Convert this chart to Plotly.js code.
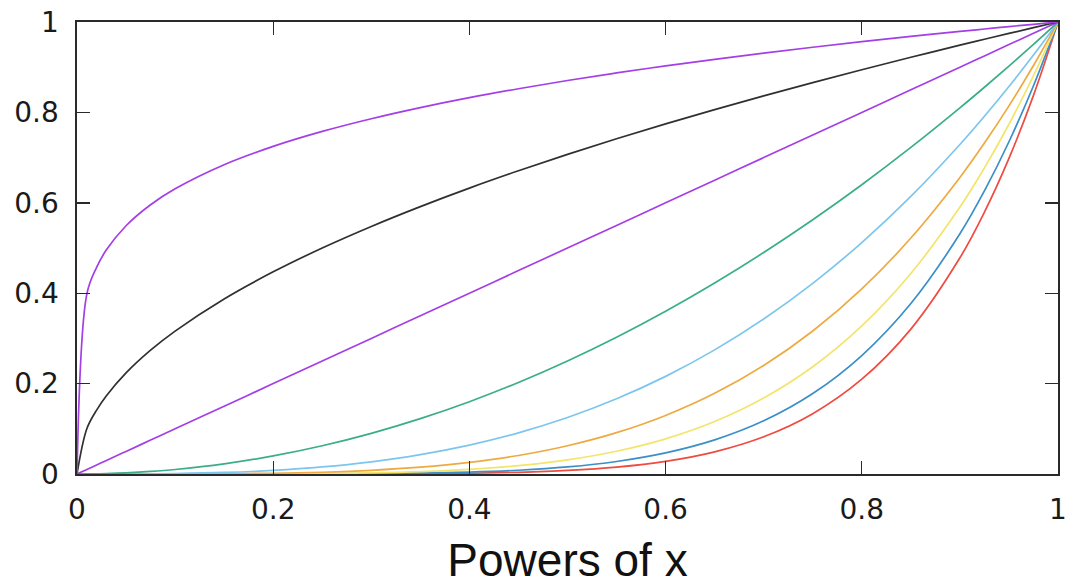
<!DOCTYPE html>
<html>
<head>
<meta charset="utf-8">
<script src="https://cdn.plot.ly/plotly-3.0.1.min.js"></script>
<style>html,body{margin:0;padding:0;background:#fff;}#chart{width:1072px;height:586px;}</style>
</head>
<body>
<div id="chart"></div>
<script>
// sample positions along x
const xs = [0, 0.0101, 0.02, 0.03, 0.05, 0.075, 0.1, 0.15, 0.2, 0.25, 0.3, 0.35, 0.4, 0.45, 0.5, 0.55, 0.6, 0.65, 0.7, 0.75, 0.8, 0.85, 0.9, 0.925, 0.95, 0.975, 1];

// curve values read at those positions
const yPow02 = [0, 0.3989, 0.4573, 0.4959, 0.5493, 0.5957, 0.6310, 0.6843, 0.7248, 0.7579, 0.7860, 0.8106, 0.8326, 0.8524, 0.8706, 0.8873, 0.9029, 0.9175, 0.9311, 0.9441, 0.9564, 0.9680, 0.9791, 0.9845, 0.9898, 0.9949, 1];
const yPow05 = [0, 0.1005, 0.1414, 0.1732, 0.2236, 0.2739, 0.3162, 0.3873, 0.4472, 0.5, 0.5477, 0.5916, 0.6325, 0.6708, 0.7071, 0.7416, 0.7746, 0.8062, 0.8367, 0.8660, 0.8944, 0.9220, 0.9487, 0.9618, 0.9747, 0.9874, 1];
const yPow1 = [0, 0.0101, 0.02, 0.03, 0.05, 0.075, 0.1, 0.15, 0.2, 0.25, 0.3, 0.35, 0.4, 0.45, 0.5, 0.55, 0.6, 0.65, 0.7, 0.75, 0.8, 0.85, 0.9, 0.925, 0.95, 0.975, 1];
const yPow2 = [0, 0.0001, 0.0004, 0.0009, 0.0025, 0.0056, 0.01, 0.0225, 0.04, 0.0625, 0.09, 0.1225, 0.16, 0.2025, 0.25, 0.3025, 0.36, 0.4225, 0.49, 0.5625, 0.64, 0.7225, 0.81, 0.8556, 0.9025, 0.9506, 1];
const yPow3 = [0, 0, 0.000008, 0.000027, 0.000125, 0.00042, 0.001, 0.003375, 0.008, 0.015625, 0.027, 0.042875, 0.064, 0.091125, 0.125, 0.166375, 0.216, 0.274625, 0.343, 0.421875, 0.512, 0.614125, 0.729, 0.791453, 0.857375, 0.926859, 1];
const yPow4 = [0, 0, 0, 0, 0.00000625, 0.0000316, 0.0001, 0.000506, 0.0016, 0.003906, 0.0081, 0.015006, 0.0256, 0.041006, 0.0625, 0.091506, 0.1296, 0.178506, 0.2401, 0.316406, 0.4096, 0.522006, 0.6561, 0.732094, 0.814506, 0.903688, 1];
const yPow5 = [0, 0, 0, 0, 0, 0.0000024, 0.00001, 0.0000759, 0.00032, 0.000977, 0.00243, 0.005252, 0.01024, 0.018453, 0.03125, 0.050328, 0.07776, 0.116029, 0.16807, 0.237305, 0.32768, 0.443705, 0.59049, 0.677187, 0.773781, 0.881096, 1];
const yPow6 = [0, 0, 0, 0, 0, 0, 0.000001, 0.0000114, 0.000064, 0.000244, 0.000729, 0.001838, 0.004096, 0.008304, 0.015625, 0.02768, 0.046656, 0.075419, 0.117649, 0.177979, 0.262144, 0.37715, 0.531441, 0.626398, 0.735092, 0.859069, 1];
const yPow7 = [0, 0, 0, 0, 0, 0, 0, 0.0000017, 0.0000128, 0.000061, 0.000219, 0.000643, 0.001638, 0.003737, 0.007813, 0.015224, 0.027994, 0.049022, 0.082354, 0.133484, 0.209715, 0.320577, 0.478297, 0.579418, 0.698337, 0.837592, 1];

const xTicks = [0, 0.2, 0.4, 0.6, 0.8, 1];
const yTicks = [0, 0.2, 0.4, 0.6, 0.8, 1];
const xTickText = ["0", "0.2", "0.4", "0.6", "0.8", "1"];
const yTickText = ["0", "0.2", "0.4", "0.6", "0.8", "1"];

const series = [
  {y: yPow7, color: "#ef4b40"},
  {y: yPow6, color: "#3a8fc8"},
  {y: yPow5, color: "#f3e46c"},
  {y: yPow4, color: "#eeaa40"},
  {y: yPow3, color: "#7cc6ee"},
  {y: yPow2, color: "#3aae88"},
  {y: yPow1, color: "#a43ee6"},
  {y: yPow05, color: "#303030"},
  {y: yPow02, color: "#a43ee6"}
];

const traces = series.map(s => ({
  x: xs, y: s.y, type: "scatter", mode: "lines",
  line: {color: s.color, width: 1.7, shape: "spline", smoothing: 1},
  hoverinfo: "skip", showlegend: false
}));

const axisCommon = {
  showgrid: false, zeroline: false, showline: true, linecolor: "#2a2a2a", linewidth: 1.6,
  mirror: "allticks", ticks: "inside", ticklen: 13, tickwidth: 1.4, tickcolor: "#2a2a2a",
  tickfont: {family: "DejaVu Sans", size: 28, color: "#1a1a1a"}, fixedrange: true
};

const layout = {
  width: 1072, height: 586,
  margin: {l: 77, r: 14, t: 22, b: 112},
  paper_bgcolor: "#fff", plot_bgcolor: "#fff",
  xaxis: Object.assign({}, axisCommon, {
    range: [0, 1], tickmode: "array", tickvals: xTicks, ticktext: xTickText,
    ticklabelstandoff: 10,
    title: {text: "Powers of x", font: {family: "Liberation Sans", size: 46, color: "#111"}, standoff: 22}
  }),
  yaxis: Object.assign({}, axisCommon, {
    range: [0, 1], tickmode: "array", tickvals: yTicks, ticktext: yTickText,
    ticklabelstandoff: 11
  })
};

Plotly.newPlot("chart", traces, layout, {staticPlot: true, displayModeBar: false});
</script>
</body>
</html>
